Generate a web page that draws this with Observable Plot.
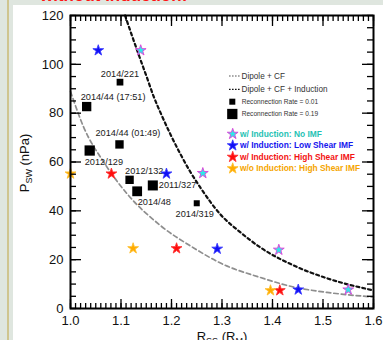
<!DOCTYPE html>
<html><head><meta charset="utf-8">
<script src="https://cdn.jsdelivr.net/npm/d3@7"></script>
<script src="https://cdn.jsdelivr.net/npm/@observablehq/plot@0.6"></script>
<style>
html,body{margin:0;padding:0;}
body{width:383px;height:340px;overflow:hidden;position:relative;background:#dfe6df;font-family:"Liberation Sans",Arial,sans-serif;}
#tan{position:absolute;left:7px;top:0;width:2px;height:340px;background:#cfc58f;}
#panel{position:absolute;left:13px;top:5px;width:370px;height:335px;background:#fff;}
#title{position:absolute;left:40px;top:-13.5px;font:bold 17px "Liberation Sans",Arial,sans-serif;color:#ff1414;line-height:17px;white-space:nowrap;}
#chart{position:absolute;left:0;top:0;}
#chart svg{background:transparent !important;overflow:visible;}
</style></head><body>
<div id="tan"></div><div id="panel"></div><div id="title">without Induction:</div><div id="chart"></div>
<script>
// ---- data ----
const xTicks = [1.0, 1.1, 1.2, 1.3, 1.4, 1.5, 1.6];
const yTicks = [0, 20, 40, 60, 80, 100, 120];

// Dipole + CF (grey dashed)
const dipoleR = [1.0, 1.026, 1.066, 1.112, 1.178, 1.244, 1.297, 1.376, 1.442, 1.508, 1.6];
const dipoleP = [88.9, 74.3, 59.9, 47.0, 34.0, 24.8, 18.6, 12.7, 8.8, 6.6, 4.7];

// Dipole + CF + Induction (black dashed)
const inductR = [1.108, 1.123, 1.137, 1.151, 1.164, 1.178, 1.198, 1.218, 1.238, 1.257, 1.297, 1.337, 1.376, 1.442, 1.509, 1.6];
const inductP = [120, 111.0, 102.8, 94.8, 87.2, 80.3, 71.3, 63.1, 55.7, 49.6, 38.5, 31.1, 25.0, 17.6, 12.3, 7.4];

// MESSENGER events (black squares), size = reconnection rate
const eventLabels = ["2014/221", "2014/44 (17:51)", "2014/44 (01:49)", "2012/129", "2012/132", "2014/48", "2011/327", "2014/319"];
const eventR = [1.098, 1.032, 1.097, 1.038, 1.117, 1.132, 1.163, 1.250];
const eventP = [92.7, 82.7, 67.2, 64.7, 52.7, 48.0, 50.4, 43.1];
const eventRate = [0.04, 0.15, 0.11, 0.19, 0.11, 0.17, 0.18, 0.01];

// Simulation stars
const starSeries = ["w/ Induction: No IMF", "w/ Induction: Low Shear IMF", "w/ Induction: High Shear IMF", "w/o Induction: High Shear IMF"];
const noImfR = [1.139, 1.262, 1.4125, 1.550];
const noImfP = [105.7, 55.4, 24.0, 7.7];
const lowShearR = [1.055, 1.190, 1.2905, 1.451];
const lowShearP = [105.7, 55.2, 24.4, 7.7];
const highShearR = [1.081, 1.210, 1.4145];
const highShearP = [55.2, 24.6, 7.4];
const noIndR = [1.000, 1.124, 1.396];
const noIndP = [55.2, 24.6, 7.4];

const rateLegend = [0.01, 0.19];
const lineLegend = ["Dipole + CF", "Dipole + CF + Induction"];

// ---- build tables ----
const zip = (xs, ys) => xs.map((x, i) => ({x, y: ys[i]}));
const dipole = zip(dipoleR, dipoleP);
const induct = zip(inductR, inductP);
const events = eventLabels.map((label, i) => ({label, x: eventR[i], y: eventP[i], rate: eventRate[i]}));

const starStyle = [
  {fill: "#30e8e8", stroke: "#e03cd8", text: "#1fc2b4"},
  {fill: "#1010f5", stroke: "#3a3aff", text: "#1515ee"},
  {fill: "#ff0c0c", stroke: "#ff3030", text: "#f31212"},
  {fill: "#ffab00", stroke: "#ffc030", text: "#f5a500"}
];
const starData = [zip(noImfR, noImfP), zip(lowShearR, lowShearP), zip(highShearR, highShearP), zip(noIndR, noIndP)];
const starR = 3.4;

const labelLayout = {
  "2014/221": {dx: 0, dy: -8.5, anchor: "middle"},
  "2014/44 (17:51)": {dx: -6, dy: -9.5, anchor: "start"},
  "2014/44 (01:49)": {dx: -24, dy: -11, anchor: "start"},
  "2012/129": {dx: -5, dy: 12, anchor: "start"},
  "2012/132": {dx: -4.5, dy: -8.5, anchor: "start"},
  "2014/48": {dx: 0.5, dy: 10.5, anchor: "start"},
  "2011/327": {dx: 6, dy: 0, anchor: "start"},
  "2014/319": {dx: -2, dy: 10.5, anchor: "middle"}
};

const frameW = 303, frameH = 293;
const xMinor = d3.range(100, 161).map(d => d / 100);
const yMinor = d3.range(0, 121, 5);
const tk = {stroke: "black", strokeWidth: 1.3};

const font = "'Liberation Sans', Arial, Helvetica, sans-serif";

const plot = Plot.plot({
  width: 383, height: 340,
  marginLeft: 70, marginRight: 10, marginTop: 15, marginBottom: 32,
  x: {domain: [1.0, 1.6]},
  y: {domain: [0, 120]},
  r: {type: "linear", domain: [0.01, 0.19], range: [3.4, 5.8]},
  style: {fontFamily: font, background: "transparent", overflow: "visible"},
  marks: [
    Plot.line(dipole, {x: "x", y: "y", stroke: "#8e8e8e", strokeWidth: 1.7, strokeDasharray: "4.5,3", curve: "monotone-x"}),
    Plot.line(induct, {x: "x", y: "y", stroke: "#111", strokeWidth: 2.2, strokeDasharray: "3,3", curve: "monotone-x"}),
    Plot.dot(events, {x: "x", y: "y", r: "rate", symbol: "square", fill: "black"}),
    ...events.map(d => {
      const L = labelLayout[d.label];
      return Plot.text([d], {x: "x", y: "y", text: "label", dx: L.dx, dy: L.dy, textAnchor: L.anchor, fontSize: 9.2, fill: "#1a1a1a"});
    }),
    ...starData.map((data, i) => Plot.dot(data, {x: "x", y: "y", symbol: "star", r: starR, fill: starStyle[i].fill, stroke: starStyle[i].stroke, strokeWidth: 0.9})),
    // inward ticks on all four sides
    Plot.ruleX(xMinor, {x: d => d, insetTop: frameH - 5, ...tk}),
    Plot.ruleX(xTicks, {x: d => d, insetTop: frameH - 9, ...tk}),
    Plot.ruleX(xMinor, {x: d => d, insetBottom: frameH - 6, ...tk}),
    Plot.ruleX(xTicks, {x: d => d, insetBottom: frameH - 11, ...tk}),
    Plot.ruleY(yMinor, {y: d => d, insetRight: frameW - 6, ...tk}),
    Plot.ruleY(yTicks, {y: d => d, insetRight: frameW - 11, ...tk}),
    Plot.ruleY(yMinor, {y: d => d, insetLeft: frameW - 6, ...tk}),
    Plot.ruleY(yTicks, {y: d => d, insetLeft: frameW - 11, ...tk}),
    Plot.frame({stroke: "black", strokeWidth: 2}),
    Plot.axisX({ticks: xTicks, tickSize: 0, tickPadding: 7, tickFormat: d3.format(".1f"), fontSize: 13, fill: "#111", label: null}),
    Plot.axisY({ticks: yTicks, tickSize: 0, tickPadding: 7, fontSize: 13, fill: "#111", label: null})
  ]
});
document.getElementById("chart").appendChild(plot);

// ---- axis titles with subscripts ----
const svg = d3.select(plot);
const yl = svg.append("text").attr("transform", "translate(28.5,163) rotate(-90)")
  .attr("text-anchor", "middle").attr("font-size", 13).attr("fill", "#111").attr("font-family", font);
yl.append("tspan").text("P");
yl.append("tspan").attr("font-size", 9).attr("dy", 3).text("SW");
yl.append("tspan").attr("dy", -3).text(" (nPa)");

const xl = svg.append("text").attr("x", 222).attr("y", 341)
  .attr("text-anchor", "middle").attr("font-size", 13).attr("fill", "#111").attr("font-family", font);
xl.append("tspan").text("R");
xl.append("tspan").attr("font-size", 9).attr("dy", 3).text("SS");
xl.append("tspan").attr("dy", -3).text(" (R");
xl.append("tspan").attr("font-size", 9).attr("dy", 3).text("M");
xl.append("tspan").attr("dy", -3).text(")");

// ---- legend ----
const lg = svg.append("g").attr("font-family", font).attr("text-anchor", "start");
const lineStyles = [{stroke: "#8e8e8e"}, {stroke: "#111"}];
lineLegend.forEach((t, i) => {
  const y = 76 + i * 13.3;
  lg.append("line").attr("x1", 229).attr("x2", 240).attr("y1", y).attr("y2", y)
    .attr("stroke", lineStyles[i].stroke).attr("stroke-width", 1.3).attr("stroke-dasharray", "1.6,1.4");
  lg.append("text").attr("x", 241.5).attr("y", y).attr("dy", "0.35em").attr("font-size", 8.2).attr("fill", "#333").text(t);
});
const rScale = plot.scale("r");
rateLegend.forEach((v, i) => {
  const y = 101.7 + i * 12.3;
  const rr = rScale.apply(v);
  lg.append("path").attr("transform", `translate(232.3,${y})`)
    .attr("d", d3.symbol(d3.symbolSquare, rr * rr * Math.PI)()).attr("fill", "black");
  lg.append("text").attr("x", 241.7).attr("y", y).attr("dy", "0.35em").attr("font-size", 6.6).attr("fill", "#333")
    .text(`Reconnection Rate = ${v.toFixed(2)}`);
});
starSeries.forEach((t, i) => {
  const y = 134 + i * 11.5;
  lg.append("path").attr("transform", `translate(232.7,${y})`)
    .attr("d", d3.symbol(d3.symbolStar, starR * starR * Math.PI)())
    .attr("fill", starStyle[i].fill).attr("stroke", starStyle[i].stroke).attr("stroke-width", 0.9);
  lg.append("text").attr("x", 240).attr("y", y).attr("dy", "0.35em").attr("font-size", 8.4)
    .attr("font-weight", "bold").attr("fill", starStyle[i].text).text(t);
});
</script></body></html>
